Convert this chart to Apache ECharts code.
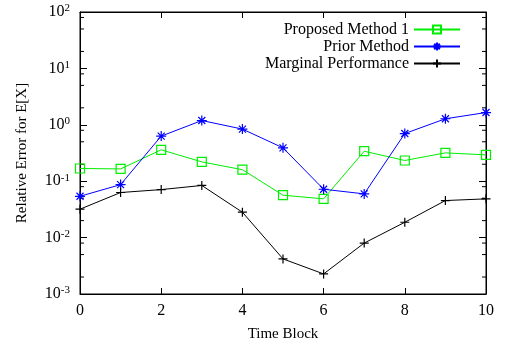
<!DOCTYPE html>
<html>
<head>
<meta charset="utf-8">
<script src="https://cdn.jsdelivr.net/npm/echarts@6/dist/echarts.min.js"></script>
<style>html,body{margin:0;padding:0;background:#fff}#c{width:507px;height:349px}</style>
</head>
<body>
<div id="c"></div>
<script>
var timeBlocks = [0,1,2,3,4,5,6,7,8,9,10];
var proposed = [0.168,0.165,0.36,0.22,0.16,0.0565,0.0486,0.34,0.233,0.318,0.293];
var prior = [0.054,0.087,0.63,1.19,0.84,0.39,0.072,0.0596,0.70,1.28,1.65];
var marginal = [0.0319,0.063,0.071,0.084,0.0282,0.00419,0.00227,0.0080,0.0187,0.0454,0.0486];
var minorTickValues = [0.002,0.005,0.008,0.02,0.05,0.08,0.2,0.5,0.8,2,5,8,20,50,80];
var seriesNames = ['Proposed Method 1','Prior Method','Marginal Performance'];

var FONT = 'Liberation Serif';
function pairs(arr){ return arr.map(function(v,i){ return [timeBlocks[i], v]; }); }

var chart = echarts.init(document.getElementById('c'), null, {renderer:'canvas'});
var axisLineStyle = {color:'#000', width:1};
var option = {
  animation:false,
  backgroundColor:'#fff',
  grid:{left:80,right:21,top:12,bottom:55,show:true,borderColor:'#000',borderWidth:1,backgroundColor:'transparent'},
  legend:{
    data:seriesNames,
    orient:'vertical',
    align:'right',
    right:41,
    top:16,
    itemWidth:46,
    itemHeight:10,
    itemGap:0,
    textStyle:{fontFamily:FONT,fontSize:16,color:'#000',lineHeight:17}
  },
  xAxis:[{
    type:'value',min:0,max:10,interval:2,position:'bottom',
    name:'Time Block',nameLocation:'middle',nameGap:33,
    nameTextStyle:{fontFamily:FONT,fontSize:15,color:'#000'},
    axisLine:{show:true,onZero:false,lineStyle:axisLineStyle},
    axisTick:{show:true,inside:true,length:6,lineStyle:axisLineStyle},
    axisLabel:{fontFamily:FONT,fontSize:16,color:'#000',margin:9},
    splitLine:{show:false}
  },{
    type:'value',min:0,max:10,interval:2,position:'top',
    axisLine:{show:true,onZero:false,lineStyle:axisLineStyle},
    axisTick:{show:true,inside:true,length:6,lineStyle:axisLineStyle},
    axisLabel:{show:false},splitLine:{show:false}
  }],
  yAxis:[{
    type:'log',logBase:10,min:0.001,max:100,position:'left',
    name:'Relative Error for E[X]',nameLocation:'middle',nameGap:50,
    nameTextStyle:{fontFamily:FONT,fontSize:15,color:'#000'},
    axisLine:{show:true,onZero:false,lineStyle:axisLineStyle},
    axisTick:{show:true,inside:true,length:7,lineStyle:axisLineStyle},
    axisLabel:{
      margin:10,
      formatter:function(v){ var e=Math.round(Math.log10(v)); return '{b|10}{s|'+e+'}'; },
      rich:{
        b:{fontFamily:FONT,fontSize:16,color:'#000'},
        s:{fontFamily:FONT,fontSize:11,color:'#000',verticalAlign:'top',padding:[0,0,7,0]}
      }
    },
    splitLine:{show:false}
  },{
    type:'log',logBase:10,min:0.001,max:100,position:'right',
    axisLine:{show:true,onZero:false,lineStyle:axisLineStyle},
    axisTick:{show:true,inside:true,length:7,lineStyle:axisLineStyle},
    axisLabel:{show:false},splitLine:{show:false}
  }],
  series:[{
    name:seriesNames[0],type:'line',data:pairs(proposed),
    symbol:'rect',symbolSize:9,
    lineStyle:{color:'#00ee00',width:1},
    itemStyle:{color:'rgba(0,0,0,0)',borderColor:'#00ee00',borderWidth:1.2},
    emphasis:{disabled:true},z:3
  },{
    name:seriesNames[1],type:'line',data:pairs(prior),
    symbol:'path://M0,5L10,5M5,0L5,10M1.5,1.5L8.5,8.5M1.5,8.5L8.5,1.5',symbolSize:10,
    lineStyle:{color:'#0000ff',width:1},
    itemStyle:{color:'rgba(0,0,0,0)',borderColor:'#0000ff',borderWidth:1.2},
    emphasis:{disabled:true},z:4
  },{
    name:seriesNames[2],type:'line',data:pairs(marginal),
    symbol:'path://M0,5L10,5M5,0L5,10',symbolSize:9,
    lineStyle:{color:'#000000',width:1},
    itemStyle:{color:'rgba(0,0,0,0)',borderColor:'#000000',borderWidth:1.2},
    emphasis:{disabled:true},z:5
  },{
    name:'minorTicks',type:'custom',silent:true,
    data:minorTickValues.map(function(v){return [0,v];}),
    renderItem:function(params, api){
      var v = api.value(1);
      var pl = api.coord([0, v]);
      var pr = api.coord([10, v]);
      return {type:'group',children:[
        {type:'line',shape:{x1:pl[0],y1:pl[1],x2:pl[0]+4,y2:pl[1]},style:{stroke:'#000',lineWidth:1}},
        {type:'line',shape:{x1:pr[0],y1:pr[1],x2:pr[0]-4,y2:pr[1]},style:{stroke:'#000',lineWidth:1}}
      ]};
    },
    z:2
  }]
};
chart.setOption(option);
</script>
</body>
</html>
